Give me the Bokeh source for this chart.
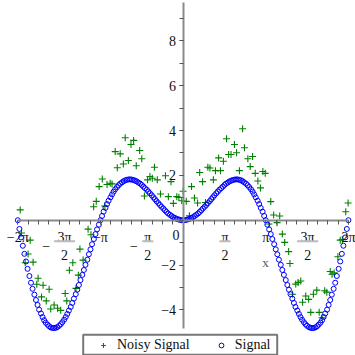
import math
from bokeh.plotting import figure
from bokeh.models import Range1d, LinearAxis, FixedTicker, Legend, LegendItem
from bokeh.core.properties import value
from bokeh.embed import file_html
from bokeh.resources import INLINE

PI = math.pi

# ---------------- data ----------------
signal_x = [
    -6.28, -6.22, -6.16, -6.09, -6.03, -5.97, -5.91, -5.84, -5.78, -5.72,
    -5.65, -5.59, -5.53, -5.47, -5.40, -5.34, -5.28, -5.22, -5.15, -5.09,
    -5.03, -4.96, -4.90, -4.84, -4.78, -4.71, -4.65, -4.59, -4.52, -4.46,
    -4.40, -4.34, -4.27, -4.21, -4.15, -4.08, -4.02, -3.96, -3.90, -3.83,
    -3.77, -3.71, -3.64, -3.58, -3.52, -3.46, -3.39, -3.33, -3.27, -3.20,
    -3.14, -3.08, -3.02, -2.95, -2.89, -2.83, -2.76, -2.70, -2.64, -2.58,
    -2.51, -2.45, -2.39, -2.32, -2.26, -2.20, -2.14, -2.07, -2.01, -1.95,
    -1.88, -1.82, -1.76, -1.70, -1.63, -1.57, -1.51, -1.45, -1.38, -1.32,
    -1.26, -1.19, -1.13, -1.07, -1.01, -0.94, -0.88, -0.82, -0.75, -0.69,
    -0.63, -0.57, -0.50, -0.44, -0.38, -0.31, -0.25, -0.19, -0.13, -0.06,
    0.00,
    0.06, 0.13, 0.19, 0.25, 0.31, 0.38, 0.44, 0.50, 0.57, 0.63,
    0.69, 0.75, 0.82, 0.88, 0.94, 1.01, 1.07, 1.13, 1.19, 1.26,
    1.32, 1.38, 1.45, 1.51, 1.57, 1.63, 1.70, 1.76, 1.82, 1.88,
    1.95, 2.01, 2.07, 2.14, 2.20, 2.26, 2.32, 2.39, 2.45, 2.51,
    2.58, 2.64, 2.70, 2.76, 2.83, 2.89, 2.95, 3.02, 3.08, 3.14,
    3.20, 3.27, 3.33, 3.39, 3.46, 3.52, 3.58, 3.64, 3.71, 3.77,
    3.83, 3.90, 3.96, 4.02, 4.08, 4.15, 4.21, 4.27, 4.34, 4.40,
    4.46, 4.52, 4.59, 4.65, 4.71, 4.78, 4.84, 4.90, 4.96, 5.03,
    5.09, 5.15, 5.22, 5.28, 5.34, 5.40, 5.47, 5.53, 5.59, 5.65,
    5.72, 5.78, 5.84, 5.91, 5.97, 6.03, 6.09, 6.16, 6.22, 6.28,
]
signal_y = [
    0.00, -0.39, -0.77, -1.14, -1.50, -1.84, -2.17, -2.49, -2.79, -3.06,
    -3.32, -3.56, -3.78, -3.99, -4.16, -4.32, -4.46, -4.57, -4.66, -4.73,
    -4.78, -4.81, -4.81, -4.80, -4.77, -4.71, -4.64, -4.55, -4.44, -4.32,
    -4.18, -4.03, -3.87, -3.69, -3.50, -3.30, -3.10, -2.89, -2.67, -2.44,
    -2.22, -1.99, -1.76, -1.52, -1.30, -1.07, -0.84, -0.62, -0.41, -0.20,
    0.00, 0.19, 0.38, 0.55, 0.72, 0.87, 1.02, 1.15, 1.27, 1.38,
    1.48, 1.56, 1.63, 1.69, 1.74, 1.78, 1.80, 1.82, 1.82, 1.81,
    1.79, 1.76, 1.73, 1.68, 1.63, 1.57, 1.50, 1.43, 1.36, 1.28,
    1.20, 1.11, 1.02, 0.94, 0.85, 0.76, 0.68, 0.60, 0.52, 0.44,
    0.37, 0.30, 0.24, 0.19, 0.14, 0.10, 0.06, 0.04, 0.02, 0.00,
    0.00,
    0.00, 0.02, 0.04, 0.06, 0.10, 0.14, 0.19, 0.24, 0.30, 0.37,
    0.44, 0.52, 0.60, 0.68, 0.76, 0.85, 0.94, 1.02, 1.11, 1.20,
    1.28, 1.36, 1.43, 1.50, 1.57, 1.63, 1.68, 1.73, 1.76, 1.79,
    1.81, 1.82, 1.82, 1.80, 1.78, 1.74, 1.69, 1.63, 1.56, 1.48,
    1.38, 1.27, 1.15, 1.02, 0.87, 0.72, 0.55, 0.38, 0.19, 0.00,
    -0.20, -0.41, -0.62, -0.84, -1.07, -1.30, -1.52, -1.76, -1.99, -2.22,
    -2.44, -2.67, -2.89, -3.10, -3.30, -3.50, -3.69, -3.87, -4.03, -4.18,
    -4.32, -4.44, -4.55, -4.64, -4.71, -4.77, -4.80, -4.81, -4.81, -4.78,
    -4.73, -4.66, -4.57, -4.46, -4.32, -4.16, -3.99, -3.78, -3.56, -3.32,
    -3.06, -2.79, -2.49, -2.17, -1.84, -1.50, -1.14, -0.77, -0.39, 0.00,
]

noisy_x = [
    -6.19, -6.14, -6.00, -5.89, -5.81, -5.70, -5.56, -5.51, -5.38, -5.32,
    -5.20, -5.09, -5.03, -4.90, -4.77, -4.65, -4.48, -4.42, -4.32, -4.19,
    -4.07, -3.98, -3.92, -3.80, -3.61, -3.50, -3.40, -3.30, -3.19,
    -3.07, -2.97, -2.89, -2.77, -2.70, -2.58, -2.50, -2.39, -2.27, -2.20,
    -2.08, -1.98, -1.88, -1.78, -1.65, -1.57, -1.47, -1.35, -1.26, -1.17,
    -1.09, -0.98, -0.86, -0.67, -0.56, -0.46, -0.37, -0.24, -0.16,
    -0.05, 0.00, 0.12, 0.24, 0.32, 0.43, 0.55, 0.63, 0.74, 0.85,
    0.94, 1.02, 1.15, 1.23, 1.35, 1.42, 1.53, 1.65, 1.73, 1.82,
    1.95, 2.03, 2.14, 2.26, 2.33, 2.46, 2.55, 2.64, 2.74, 2.84,
    2.94, 3.03, 3.12,
    3.26, 3.33, 3.44, 3.57, 3.67, 3.77, 3.86, 4.01, 4.06, 4.16,
    4.28, 4.37, 4.47, 4.54, 4.66, 4.77, 4.85, 4.95, 5.08, 5.17,
    5.28, 5.38, 5.46, 5.59, 5.66, 5.74, 5.88, 5.97, 6.05, 6.18, 6.27,
]
noisy_y = [
    0.46, -0.57, -1.90, -1.51, -0.89, -1.87, -2.86, -2.59, -3.42, -2.90,
    -3.60, -3.08, -3.96, -3.78, -3.93, -4.02, -3.27, -3.60, -2.23, -1.90,
    -3.04, -2.45, -1.29, -1.78, -0.40, -0.65, 0.60, 0.84, 1.50,
    1.84, 0.63, 1.59, 1.65, 1.62, 3.06, 2.34, 2.96, 2.51, 3.68,
    2.66, 3.38, 3.56, 2.43, 3.11, 2.74, 1.08, 1.80, 1.95, 1.87,
    2.36, 1.80, 1.17, 1.98, 1.05, 1.72, 0.75, 1.05, 1.02,
    0.87, 1.29, 0.84, 0.20, 1.50, 0.99, 0.77, 2.13, 1.72, 0.79,
    2.36, 2.33, 1.80, 2.21, 2.78, 2.21, 2.63, 3.63, 2.93, 2.93,
    3.38, 3.01, 2.21, 4.08, 3.23, 2.74, 2.39, 2.84, 2.09, 1.75,
    1.44, 2.17, 2.09,
    -0.17, 0.83, 0.23, -0.11, 0.19, -0.62, -0.99, -1.40, -1.93, -3.30,
    -2.85, -2.78, -2.71, -3.66, -3.38, -3.53, -4.11, -3.30, -3.12, -4.11,
    -4.35, -3.15, -3.21, -2.29, -2.41, -2.35, -1.63, -0.89, -0.86, 0.38, 0.77,
]

# ticks and tick labels
x_major = [-2 * PI, -1.5 * PI, -PI, -0.5 * PI, 0.0, 0.5 * PI, PI, 1.5 * PI, 2 * PI]
x_minor = [k * PI / 8 for k in range(-16, 17)]
y_major = [-4, -2, 2, 4, 6, 8]
y_minor = list(range(-4, 10))
y_labels = {-4: "−4", -2: "−2", 2: "2", 4: "4", 6: "6", 8: "8"}

single_x = [-2 * PI, -PI, PI, 2 * PI]
single_text = ["−2π", "−π", "π", "2π"]
frac_x = [-1.5 * PI, -0.5 * PI, 0.5 * PI, 1.5 * PI]
frac_num = ["3π", "π", "π", "3π"]
frac_den = ["2", "2", "2", "2"]
neg_frac_x = [-1.5 * PI, -0.5 * PI]

# ---------------- figure ----------------
W = H = 355
X0, X1 = -6.938, 6.550
Y0, Y1 = -6.035, 9.80
XS = W / (X1 - X0)   # px per x unit
YS = H / (Y1 - Y0)   # px per y unit

FONT = "Liberation Serif"
AX_COL = "#8a8a8a"

p = figure(width=W, height=H, output_backend="svg", toolbar_location=None,
           x_range=Range1d(X0, X1), y_range=Range1d(Y0, Y1),
           x_axis_location=None, y_axis_location=None,
           min_border=0, outline_line_color=None,
           background_fill_color="white", border_fill_color="white")
p.grid.visible = False

xaxis = LinearAxis(fixed_location=0, bounds=(-2 * PI, 2 * PI),
                   ticker=FixedTicker(ticks=x_major, minor_ticks=x_minor),
                   major_label_overrides={t: "" for t in x_major},
                   axis_line_color=AX_COL, axis_line_width=2,
                   major_tick_line_color="#555555", minor_tick_line_color="#555555",
                   major_tick_in=0, major_tick_out=4, minor_tick_in=0, minor_tick_out=4)
p.add_layout(xaxis, "below")

yaxis = LinearAxis(fixed_location=0, bounds=(-4.83, 9.71),
                   ticker=FixedTicker(ticks=y_major, minor_ticks=y_minor),
                   major_label_overrides=y_labels,
                   major_label_text_font=FONT, major_label_text_font_size="14px",
                   major_label_text_color="#111111", major_label_standoff=3,
                   axis_line_color=AX_COL, axis_line_width=2,
                   major_tick_line_color="#555555", minor_tick_line_color="#555555",
                   major_tick_in=0, major_tick_out=4, minor_tick_in=0, minor_tick_out=4)
p.add_layout(yaxis, "left")

# data
r_noisy = p.scatter(noisy_x, noisy_y, marker="cross", size=7, line_width=1.1,
                    line_color="#008000")
r_sig = p.scatter(signal_x, signal_y, marker="circle", size=5, line_width=1,
                  line_color="#0000ff", fill_color=None)

# x tick labels (Maple-style stacked fractions)
Y_BASE = -0.772
Y_BAR = -0.937
Y_DEN = -1.552
Y_NEG = -1.15
txt = dict(text_font=value(FONT), text_font_size="14px", text_color="#111111",
           text_align="center", text_baseline="alphabetic")
p.text(x=single_x, y=[Y_BASE] * len(single_x), text=single_text, **txt)
p.text(x=[0.0], y=[-0.64], text=["0"], x_offset=-7, **txt)
frac_shift = [5.5, 6.0, 0.5, 0.5]
p.text(x=frac_x, y=[Y_BASE] * 4, text=frac_num, x_offset=frac_shift, **txt)
p.text(x=frac_x, y=[Y_DEN] * 4, text=frac_den, x_offset=frac_shift, **txt)
p.rect(x=[t + s / XS for t, s in zip(frac_x, frac_shift)], y=[Y_BAR] * 4,
       width=[21, 11, 11, 21], height=2, width_units="screen", height_units="screen",
       fill_color="#bbbbbb", line_color=None)
p.text(x=neg_frac_x, y=[Y_NEG] * 2, text=["−", "−"], x_offset=[-13, -7.7], **txt)

# axis name
p.text(x=[3.13], y=[-1.887], text=["x"], text_font=value(FONT), text_font_size="13px",
       text_color="#555555", text_align="center", text_baseline="middle")

# legend frame + legend
p.rect(x=[(179.7 / XS) + X0], y=[Y1 - 344.3 / YS], width=194, height=20,
       width_units="screen", height_units="screen",
       fill_color="white", line_color="#777777", line_width=2)
legend = Legend(items=[LegendItem(label="Noisy Signal", renderers=[r_noisy]),
                       LegendItem(label="Signal", renderers=[r_sig])],
                orientation="horizontal", location=(97, 2),
                border_line_color=None, background_fill_alpha=0,
                padding=0, margin=0, spacing=25,
                glyph_width=12, glyph_height=14, label_height=14, label_standoff=8,
                label_text_font=FONT, label_text_font_size="14px",
                label_text_color="#111111")
p.add_layout(legend)

open("out.html", "w").write(file_html(p, INLINE))
